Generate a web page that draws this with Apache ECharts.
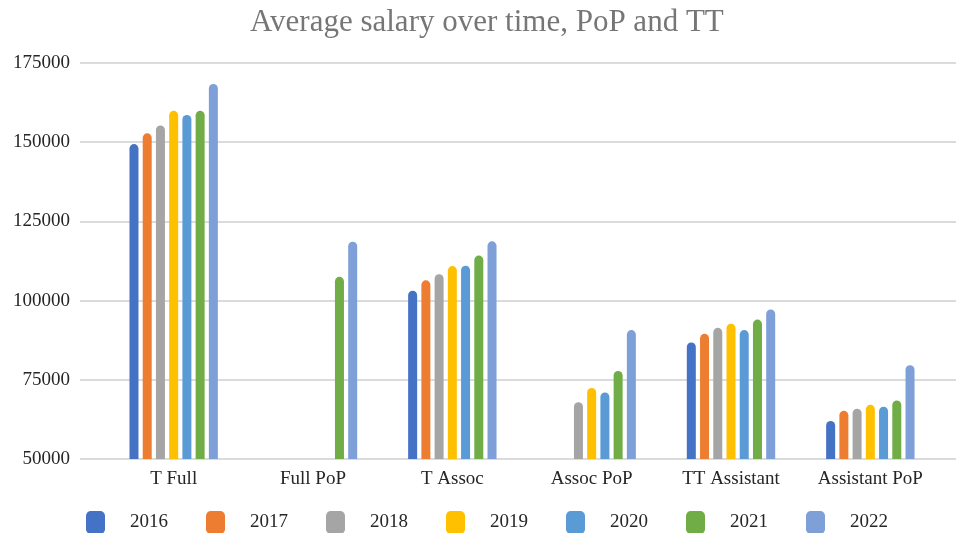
<!DOCTYPE html>
<html>
<head>
<meta charset="utf-8">
<title>Average salary over time, PoP and TT</title>
<script src="https://cdn.jsdelivr.net/npm/echarts@6/dist/echarts.min.js"></script>
<style>
    html, body { margin: 0; padding: 0; background: #fff; }
    #chart { width: 956px; height: 533px; }
</style>
</head>
<body>
<div id="chart"></div>
<script>
var categories = ["T Full", "Full PoP", "T Assoc", "Assoc PoP", "TT Assistant", "Assistant PoP"];
var years = ["2016", "2017", "2018", "2019", "2020", "2021", "2022"];
var yTicks = [50000, 75000, 100000, 125000, 150000, 175000];

// one array per year, in category order ("-" = no data)
var s2016 = [149400, "-", 103100, "-", 86800, 62000];
var s2017 = [152800, "-", 106400, "-", 89500, 65200];
var s2018 = [155300, "-", 108300, 67900, 91400, 65900];
var s2019 = [159900, "-", 110900, 72400, 92700, 67100];
var s2020 = [158600, "-", 111000, 71000, 90700, 66500];
var s2021 = [159900, 107500, 114200, 77800, 94000, 68500];
var s2022 = [168400, 118600, 118700, 90700, 97200, 79600];

var yearData = [s2016, s2017, s2018, s2019, s2020, s2021, s2022];
var barColor = ["#4472c4", "#ed7d31", "#a5a5a5", "#ffc000", "#5b9bd5", "#70ad47", "#7e9fd8"];
var serif = "'Liberation Serif', 'Times New Roman', serif";

var myChart = echarts.init(document.getElementById("chart"));

function getOption(){
    var yMin = yTicks[0];
    var yMax = yTicks[yTicks.length - 1];
    var yStep = yTicks[1] - yTicks[0];

    var option = {
        animation: false,
        color: barColor,
        title: {
            text: "Average salary over time, PoP and TT",
            left: 245,
            top: 2,
            textStyle: {
                color: "#767676",
                fontWeight: "normal",
                fontSize: 31,
                fontFamily: serif
            }
        },
        legend: {
            data: years,
            left: 81,
            top: 506,
            itemWidth: 19,
            itemHeight: 23,
            itemGap: 38,
            icon: "roundRect",
            textStyle: {
                color: "#262626",
                fontSize: 19,
                fontFamily: serif,
                width: 60,
                padding: [0, 0, 0, 20]
            }
        },
        // grid 0 only carries the gridlines and y labels, grid 1 carries the bars
        grid: [
            { left: 80, right: 0, top: 63, bottom: 74 },
            { left: 104, right: 16, top: 63, bottom: 74 }
        ],
        xAxis: [{
            gridIndex: 0,
            type: "value",
            show: false
        }, {
            gridIndex: 1,
            type: "category",
            data: categories,
            axisLine: { show: false },
            axisTick: { show: false },
            axisLabel: {
                margin: 11,
                color: "#262626",
                fontSize: 19,
                fontFamily: serif
            }
        }],
        yAxis: [{
            gridIndex: 0,
            type: "value",
            min: yMin,
            max: yMax,
            interval: yStep,
            axisLine: { show: false },
            axisTick: { show: false },
            axisLabel: {
                margin: 10,
                color: "#262626",
                fontSize: 19,
                fontFamily: serif,
                formatter: function(v){
                    return String(v);
                }
            },
            splitLine: {
                lineStyle: { color: "#cfcfcf", width: 1.5 }
            }
        }, {
            gridIndex: 1,
            type: "value",
            min: yMin,
            max: yMax,
            interval: yStep,
            show: false
        }],
        series: []
    };

    for(var i = 0; i < years.length; i++){
        option.series.push({
            name: years[i],
            type: "bar",
            xAxisIndex: 1,
            yAxisIndex: 1,
            barWidth: 9,
            barGap: "47%",
            itemStyle: {
                color: barColor[i],
                borderRadius: [4.5, 4.5, 0, 0]
            },
            data: yearData[i]
        });
    }

    return option;
}

myChart.setOption(getOption());
window.onresize = myChart.resize;
</script>
</body>
</html>
